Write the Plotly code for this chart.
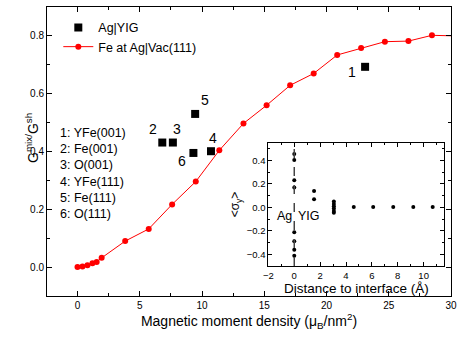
import plotly.graph_objects as go

# Fe at Ag|Vac(111)
fe_x = [0, 0.4, 0.8, 1.2, 1.54, 1.94, 3.83, 5.72, 7.6, 9.5, 11.39, 13.33, 15.19,
        17.08, 18.97, 20.86, 22.78, 24.69, 26.58, 28.47, 30.4]
fe_y = [0, 0.002, 0.006, 0.013, 0.018, 0.032, 0.09, 0.132, 0.217, 0.296, 0.404,
        0.497, 0.56, 0.629, 0.67, 0.734, 0.758, 0.78, 0.782, 0.802, 0.80]

# Ag|YIG squares, labelled 1..6
yig_x = [23.1, 6.81, 7.66, 10.72, 9.45, 9.31]
yig_y = [0.693, 0.431, 0.431, 0.401, 0.53, 0.395]
yig_num = ["1", "2", "3", "4", "5", "6"]
yig_names = ["1: YFe(001)", "2: Fe(001)", "3: O(001)", "4: YFe(111)", "5: Fe(111)", "6: O(111)"]

# inset: spin accumulation vs distance
ins_x = [0, 0, 0, 0, 0, 0, 0, 0,
         1.53, 1.53,
         3.06, 3.06, 3.06, 3.06, 3.06, 3.06,
         4.6, 6.1, 7.65, 9.2, 10.7]
ins_y = [0.455, 0.403, 0.232, 0.169, -0.212, -0.289, -0.361, -0.412,
         0.14, 0.069,
         0.05, 0.03, 0.01, -0.01, -0.03, -0.045,
         0.003, 0.003, 0.003, 0.003, 0.003]

FONT = "Arial, Liberation Sans, sans-serif"

fig = go.Figure()
fig.add_trace(go.Scatter(x=yig_x, y=yig_y, mode="markers", name="Ag|YIG",
                         marker=dict(symbol="square", size=8, color="black")))
fig.add_trace(go.Scatter(x=fe_x, y=fe_y, mode="lines+markers", name="Fe at Ag|Vac(111)",
                         line=dict(color="red", width=1),
                         marker=dict(size=6, color="red")))
fig.add_trace(go.Scatter(x=ins_x, y=ins_y, mode="markers", showlegend=False,
                         marker=dict(size=4, color="black"),
                         xaxis="x2", yaxis="y2"))

# number labels next to squares
offs = [(-13, -5), (-9, 14), (4, 14), (2, 13), (10, 14), (-11, -8)]
for n, x, y, (dx, dy) in zip(yig_num, yig_x, yig_y, offs):
    fig.add_annotation(x=x, y=y, text=n, showarrow=False, xshift=dx, yshift=dy,
                       font=dict(size=14, color="black", family=FONT))

for i, t in enumerate(yig_names):
    fig.add_annotation(x=0.028, y=(296 - 132 - 16.4 * i) / 290, xref="paper", yref="paper",
                       xanchor="left", yanchor="middle", text=t, showarrow=False,
                       font=dict(size=12.5, color="black", family=FONT))

fig.add_annotation(x=0, y=-0.07, xref="x2", yref="y2", text="Ag", showarrow=False,
                   xanchor="right", xshift=0, font=dict(size=12.5, color="black", family=FONT))
fig.add_annotation(x=0, y=-0.07, xref="x2", yref="y2", text="YIG", showarrow=False,
                   xanchor="left", xshift=2, font=dict(size=12.5, color="black", family=FONT))

# main y title sits above the axis middle in the original, so place it by hand
fig.add_annotation(x=-0.066, y=0.548, xref="paper", yref="paper", textangle=-90,
                   text="G<sup>mix/</sup>G<sup>sh</sup>", showarrow=False,
                   font=dict(size=14, color="black", family=FONT))

# inset background and dashed interface line
fig.add_shape(type="rect", xref="paper", yref="paper", x0=0.548, x1=0.9835, y0=0.1034, y1=0.530,
              fillcolor="white", line=dict(width=0), layer="below")
fig.add_shape(type="line", xref="x2", yref="y2 domain", x0=0, x1=0, y0=0, y1=1,
              line=dict(color="#444", width=1.5, dash="dash"))

axis_common = dict(showline=True, linecolor="black", linewidth=1, mirror="ticks",
                   ticks="inside", tickcolor="black", showgrid=False, zeroline=False)

fig.update_layout(
    width=463, height=338,
    margin=dict(l=47, r=10, t=6, b=42),
    paper_bgcolor="white", plot_bgcolor="white",
    font=dict(family=FONT, color="black"),
    showlegend=True,
    legend=dict(x=0.028, y=0.98, xanchor="left", yanchor="top", bgcolor="rgba(0,0,0,0)",
                font=dict(size=12.5, family=FONT), tracegroupgap=0),
    xaxis=dict(range=[-2.45, 30], dtick=5, ticklen=5,
               minor=dict(dtick=2.5, ticks="inside", ticklen=3, tickcolor="black"),
               tickfont=dict(size=10),
               title=dict(text="Magnetic moment density (μ<sub>B</sub>/nm<sup>2</sup>)",
                          font=dict(size=14), standoff=4),
               **axis_common),
    yaxis=dict(range=[-0.1, 0.9], dtick=0.2, tickformat=".1f", ticklen=5,
               minor=dict(dtick=0.1, ticks="inside", ticklen=3, tickcolor="black"),
               tickfont=dict(size=10),
               **axis_common),
    xaxis2=dict(domain=[0.548, 0.9835], anchor="y2", range=[-2, 11.6], dtick=2, ticklen=4,
                minor=dict(dtick=1, ticks="inside", ticklen=2, tickcolor="black"),
                tickfont=dict(size=9.5),
                title=dict(text="Distance to interface (Å)", font=dict(size=13.5), standoff=0),
                **axis_common),
    yaxis2=dict(domain=[0.1034, 0.530], anchor="x2", range=[-0.5, 0.55], dtick=0.2,
                tickformat=".1f", ticklen=4,
                minor=dict(dtick=0.1, ticks="inside", ticklen=2, tickcolor="black"),
                tickfont=dict(size=9.5),
                title=dict(text="&lt;σ<sub>y</sub>&gt;", font=dict(size=12), standoff=4),
                **axis_common),
)

# drop the page's default body margin so the figure sits at the window corner
fig.write_html("out.html", config={"displayModeBar": False},
               post_script="document.body.style.margin='0';")
